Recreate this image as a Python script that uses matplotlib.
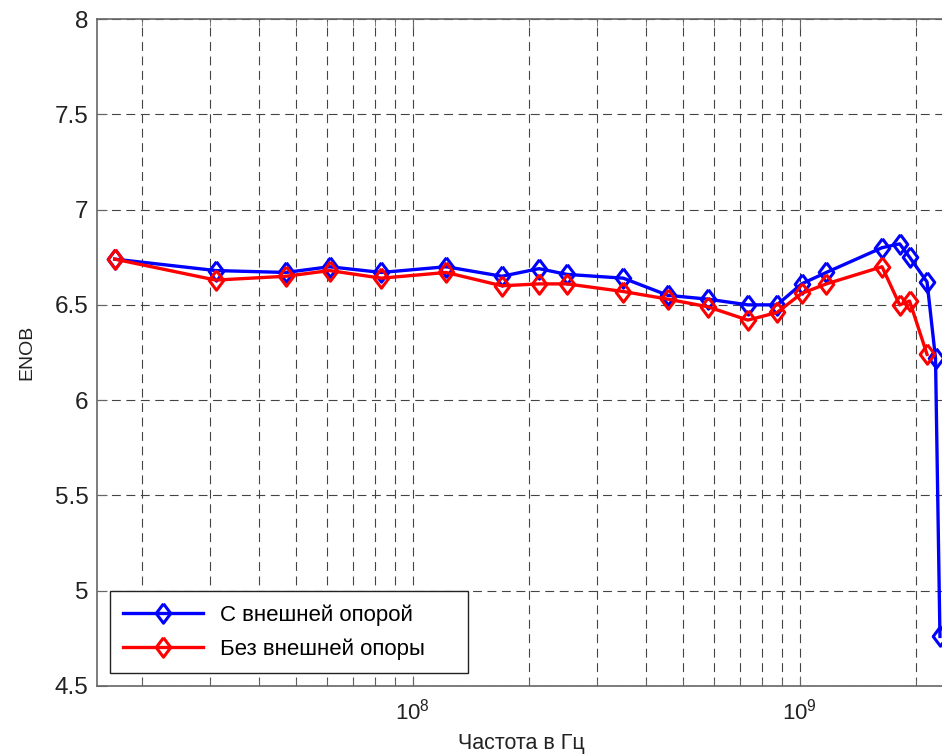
import numpy as np
import matplotlib
matplotlib.use("Agg")
import matplotlib.pyplot as plt
from matplotlib.ticker import LogLocator, NullFormatter, FixedLocator

plt.rcParams['font.family'] = ['Liberation Sans', 'DejaVu Sans']

# --- data (frequency in Hz, ENOB) ---
freq = [17e6, 31e6, 47e6, 61e6, 83e6, 122e6, 170e6, 212e6, 250e6, 350e6, 456e6,
        578e6, 734e6, 873e6, 1010e6, 1170e6, 1630e6, 1810e6, 1920e6, 2130e6,
        2240e6, 2300e6]
enob_ext = [6.74, 6.68, 6.67, 6.70, 6.67, 6.70, 6.65, 6.69, 6.66, 6.64, 6.55,
            6.53, 6.50, 6.50, 6.61, 6.67, 6.80, 6.82, 6.75, 6.62, 6.22, 4.76]
enob_noext = [6.74, 6.63, 6.65, 6.68, 6.64, 6.67, 6.60, 6.61, 6.61, 6.57, 6.53,
              6.49, 6.42, 6.46, 6.56, 6.61, 6.70, 6.50, 6.52, 6.24]
labels = ["С внешней опорой", "Без внешней опоры"]
yticks = [4.5, 5, 5.5, 6, 6.5, 7, 7.5, 8]

# MATLAB-like diamond (a bit taller than wide)
diamond = [(0, 1), (0.75, 0), (0, -1), (-0.75, 0), (0, 1)]

fig = plt.figure(figsize=(9.42, 7.56), dpi=100)
ax = fig.add_axes([97/942, 70/756, 848/942, 667/756])

ax.plot(freq, enob_ext, color='#0000ff', lw=2.4, marker=diamond, ms=14,
        mfc='none', mew=2.2, label=labels[0], zorder=4)
ax.plot(freq[:len(enob_noext)], enob_noext, color='#ff0000', lw=2.4,
        marker=diamond, ms=14, mfc='none', mew=2.2, label=labels[1], zorder=5)

ax.set_xscale('log')
ax.set_xlim(1.53e7, 2.37e9)
ax.set_ylim(4.5, 8)
ax.set_yticks(yticks)
ax.set_yticklabels([f"{v:g}" for v in yticks])
ax.xaxis.set_major_locator(FixedLocator([1e8, 1e9]))
ax.xaxis.set_minor_locator(LogLocator(base=10, subs=np.arange(2, 10)))
ax.xaxis.set_minor_formatter(NullFormatter())

gridkw = dict(color='#444444', lw=0.8, ls=(0, (8, 5)))
ax.grid(True, which='major', axis='both', **gridkw)
ax.grid(True, which='minor', axis='x', **gridkw)
ax.set_axisbelow(True)

for sp in ax.spines.values():
    sp.set_color('#666666')
    sp.set_linewidth(1.2)
ax.spines['right'].set_visible(False)

ax.tick_params(which='both', direction='in', top=True, right=False,
               colors='#666666', labelcolor='#222222')
ax.tick_params(axis='y', labelsize=17.5, pad=6)
ax.tick_params(axis='x', labelsize=16, pad=9)
ax.tick_params(which='major', length=7)
ax.tick_params(which='minor', length=5)

ax.set_xlabel("Частота в Гц", fontsize=15.5, color='#222222', labelpad=6)
ax.set_ylabel("ENOB", fontsize=14, color='#222222', labelpad=14)

leg = ax.legend(loc='lower left', bbox_to_anchor=(0.0153, 0.0195, 0.422, 0),
                mode='expand', borderaxespad=0, fontsize=16, handlelength=3.6,
                handletextpad=0.75, labelspacing=0.55, borderpad=0.6,
                fancybox=False, framealpha=1, edgecolor='#222222')
leg.get_frame().set_linewidth(1.0)

fig.savefig("out.png", dpi=100)
